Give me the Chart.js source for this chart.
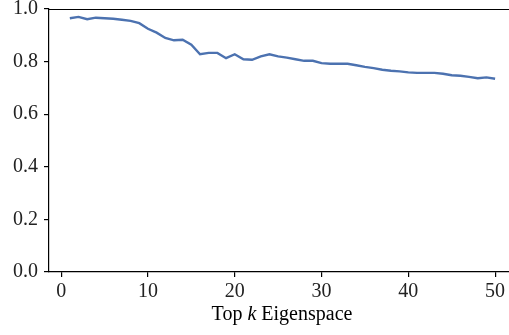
<!DOCTYPE html>
<html>
<head>
<meta charset="utf-8">
<script src="https://cdn.jsdelivr.net/npm/chart.js@4.4.1/dist/chart.umd.min.js"></script>
<style>
  html, body { margin: 0; padding: 0; background: #fff; }
  #wrap { width: 509px; height: 335px; }
</style>
</head>
<body>
<div id="wrap"><canvas id="grafica"></canvas></div>
<script>
// valores
const topK = [1, 2, 3, 4, 5, 6, 7, 8, 9, 10,
  11, 12, 13, 14, 15, 16, 17, 18, 19, 20,
  21, 22, 23, 24, 25, 26, 27, 28, 29, 30,
  31, 32, 33, 34, 35, 36, 37, 38, 39, 40,
  41, 42, 43, 44, 45, 46, 47, 48, 49, 50];
const valores = [0.965, 0.970, 0.961, 0.967, 0.965, 0.963, 0.959, 0.955, 0.946, 0.925,
  0.910, 0.890, 0.881, 0.883, 0.864, 0.828, 0.833, 0.833, 0.813, 0.828,
  0.809, 0.807, 0.820, 0.828, 0.820, 0.815, 0.809, 0.803, 0.803, 0.794,
  0.792, 0.792, 0.792, 0.786, 0.780, 0.775, 0.769, 0.765, 0.763, 0.759,
  0.757, 0.757, 0.757, 0.754, 0.748, 0.746, 0.742, 0.737, 0.740, 0.735];
const ticksX = [0, 10, 20, 30, 40, 50];
const ticksY = [0, 0.2, 0.4, 0.6, 0.8, 1.0];

const fuente = "'Liberation Serif', 'DejaVu Serif', serif";

// borde de arriba y titulo del eje x con la k en cursiva
const extras = {
  id: 'extras',
  afterDraw(chart) {
    const ctx = chart.ctx;
    const a = chart.chartArea;
    ctx.save();
    ctx.strokeStyle = '#000';
    ctx.lineWidth = 1.2;
    ctx.beginPath();
    ctx.moveTo(a.left, Math.round(a.top) + 0.5);
    ctx.lineTo(a.right, Math.round(a.top) + 0.5);
    ctx.stroke();

    const partes = [['Top ', 'normal'], ['k', 'italic'], [' Eigenspace', 'normal']];
    let ancho = 0;
    partes.forEach(p => { ctx.font = p[1] + ' 20px ' + fuente; ancho += ctx.measureText(p[0]).width; });
    let x = 282 - ancho / 2;
    ctx.fillStyle = '#000';
    ctx.textBaseline = 'middle';
    ctx.textAlign = 'left';
    partes.forEach(p => {
      ctx.font = p[1] + ' 20px ' + fuente;
      ctx.fillText(p[0], x, 315);
      x += ctx.measureText(p[0]).width;
    });
    ctx.restore();
  }
};

new Chart(document.querySelector('#grafica'), {
  type: 'line',
  data: {
    datasets: [{
      data: topK.map((k, i) => ({ x: k, y: valores[i] })),
      borderColor: '#4c72b0',
      borderWidth: 2.4,
      pointRadius: 0,
      fill: false,
      tension: 0
    }]
  },
  options: {
    responsive: true,
    maintainAspectRatio: false,
    animation: false,
    layout: { padding: { top: 9, right: 0, left: 0, bottom: 0 } },
    plugins: { legend: { display: false }, tooltip: { enabled: false } },
    scales: {
      x: {
        type: 'linear',
        min: -1.4,
        max: 51.6,
        afterBuildTicks: s => { s.ticks = ticksX.map(v => ({ value: v })); },
        afterFit: s => { s.height = 63; s.paddingLeft = 0; s.paddingRight = 0; },
        grid: { drawOnChartArea: false, drawTicks: true, tickLength: 5, color: '#000', lineWidth: 1.2 },
        border: { display: true, color: '#000', width: 1.2 },
        ticks: { color: '#222', font: { family: fuente, size: 20 }, padding: 3, maxRotation: 0 }
      },
      y: {
        min: 0,
        max: 1,
        afterBuildTicks: s => { s.ticks = ticksY.map(v => ({ value: v })); },
        afterFit: s => { s.width = 49; s.paddingTop = 0; s.paddingBottom = 0; },
        grid: { drawOnChartArea: false, drawTicks: true, tickLength: 5, color: '#000', lineWidth: 1.2 },
        border: { display: true, color: '#000', width: 1.2 },
        ticks: { color: '#222', font: { family: fuente, size: 20 }, padding: 6, callback: v => v.toFixed(1) }
      }
    }
  },
  plugins: [extras]
});
</script>
</body>
</html>
